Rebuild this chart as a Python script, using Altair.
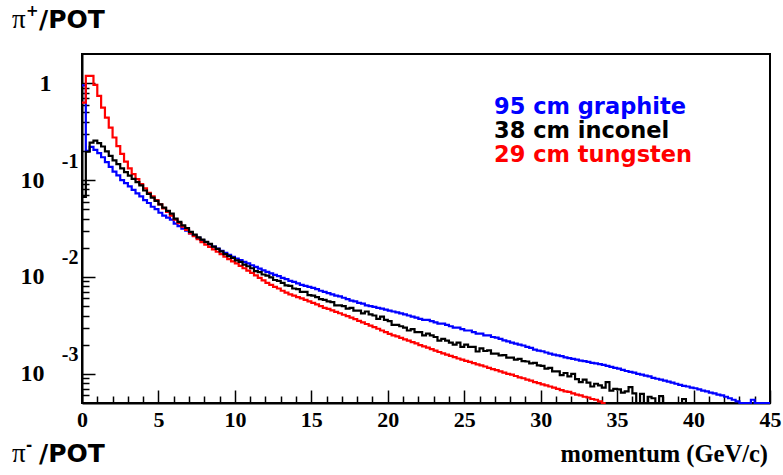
import altair as alt
import pandas as pd

# Momentum spectra of positive pions per proton on target, 0.25 GeV/c bins
BIN_WIDTH = 0.25

graphite_95cm = [
    0.95, 0.20, 0.22, 0.205,
    0.190, 0.172, 0.153, 0.137,
    0.122, 0.112, 0.100, 0.093,
    0.086, 0.079, 0.073, 0.068,
    0.062, 0.058, 0.053, 0.050,
    0.046, 0.043, 0.041, 0.039,
    0.0355, 0.0335, 0.0315, 0.0300,
    0.0282, 0.0267, 0.0253, 0.0240,
    0.0228, 0.0217, 0.0206, 0.0196,
    0.0186, 0.0177, 0.0169, 0.0161,
    0.0155, 0.0149, 0.0143, 0.0138,
    0.0132, 0.0127, 0.0122, 0.0117,
    0.0113, 0.0109, 0.0105, 0.0102,
    0.0098, 0.0095, 0.0091, 0.0089,
    0.0086, 0.0083, 0.0081, 0.0079,
    0.0077, 0.0075, 0.0072, 0.0070,
    0.0068, 0.0066, 0.0064, 0.0063,
    0.0061, 0.0059, 0.0057, 0.0056,
    0.0054, 0.0053, 0.0051, 0.0050,
    0.0049, 0.0048, 0.0047, 0.0046,
    0.0045, 0.0044, 0.0043, 0.0042,
    0.0041, 0.0040, 0.0039, 0.0038,
    0.0037, 0.0036, 0.0036, 0.0035,
    0.0034, 0.0033, 0.0033, 0.0032,
    0.0031, 0.0030, 0.0030, 0.0029,
    0.0028, 0.0028, 0.0027, 0.0026,
    0.0026, 0.0025, 0.0025, 0.0024,
    0.00236, 0.00229, 0.00221, 0.00216,
    0.00210, 0.00205, 0.00200, 0.00196,
    0.00190, 0.00185, 0.00178, 0.00174,
    0.00171, 0.00166, 0.00162, 0.00158,
    0.00155, 0.00152, 0.00148, 0.00145,
    0.00143, 0.00140, 0.00137, 0.00135,
    0.00133, 0.00130, 0.00128, 0.00126,
    0.00124, 0.00121, 0.00118, 0.00115,
    0.00113, 0.00110, 0.00107, 0.00105,
    0.00103, 0.00100, 0.00098, 0.00096,
    0.00094, 0.00091, 0.00089, 0.00087,
    0.00085, 0.00083, 0.00081, 0.00079,
    0.00077, 0.00075, 0.00074, 0.00072,
    0.00071, 0.00069, 0.00067, 0.00066,
    0.00064, 0.00063, 0.00061, 0.00060,
    0.00058, 0.00056, 0.00054, 0.00052,
    0.00048, 0.00048, 0.00048, 0.00054,
    0.00048, 0.00048, 0.00048, 0.00048,
]

inconel_38cm = [
    0.067, 0.196, 0.243, 0.255,
    0.240, 0.222, 0.198, 0.178,
    0.160, 0.146, 0.132, 0.121,
    0.111, 0.103, 0.095, 0.088,
    0.078, 0.072, 0.066, 0.061,
    0.056, 0.052, 0.048, 0.045,
    0.040, 0.037, 0.034, 0.032,
    0.0292, 0.0274, 0.0256, 0.0243,
    0.0230, 0.0219, 0.0206, 0.0195,
    0.0184, 0.0172, 0.0164, 0.0157,
    0.0148, 0.0143, 0.0134, 0.0129,
    0.0123, 0.0115, 0.0112, 0.0106,
    0.0103, 0.0099, 0.0093, 0.0091,
    0.0087, 0.0082, 0.0081, 0.0076,
    0.0075, 0.0070, 0.0070, 0.0065,
    0.0064, 0.0062, 0.0059, 0.0058,
    0.0056, 0.0055, 0.0051, 0.0051,
    0.0050, 0.0047, 0.0048, 0.0045,
    0.0045, 0.0042, 0.0044, 0.0041,
    0.0040, 0.0037, 0.0039, 0.0036,
    0.0035, 0.0032, 0.0032, 0.0031,
    0.0030, 0.0028, 0.0029, 0.0027,
    0.0027, 0.0025, 0.0026, 0.0025,
    0.0024, 0.0022, 0.0023, 0.0022,
    0.0021, 0.0020, 0.0021, 0.0019,
    0.0020, 0.0019, 0.0019, 0.0017,
    0.00183, 0.00172, 0.00175, 0.00162,
    0.00162, 0.00155, 0.00156, 0.00147,
    0.00147, 0.00140, 0.00143, 0.00135,
    0.00134, 0.00128, 0.00130, 0.00122,
    0.00121, 0.00113, 0.00115, 0.00106,
    0.00106, 0.00097, 0.00102, 0.00094,
    0.00100, 0.00088, 0.00082, 0.00087,
    0.00081, 0.00074, 0.00079, 0.00076,
    0.00072, 0.00082, 0.00067, 0.00070,
    0.00069, 0.00064, 0.00066, 0.00073,
    0.00063, 0.00040, 0.00062, 0.00040,
    0.00058, 0.00056, 0.00040, 0.00059,
    0.00040, 0.00040, 0.00040, 0.00040,
    0.00040, 0.00055, 0.00040, 0.00040,
]

tungsten_29cm = [
    0.63, 1.19, 1.19, 0.96,
    0.74, 0.56, 0.44, 0.347,
    0.275, 0.224, 0.186, 0.155,
    0.132, 0.115, 0.102, 0.091,
    0.082, 0.074, 0.068, 0.062,
    0.056, 0.051, 0.047, 0.043,
    0.039, 0.036, 0.033, 0.0305,
    0.0282, 0.0263, 0.0245, 0.0229,
    0.0216, 0.0204, 0.0193, 0.0182,
    0.0172, 0.0162, 0.0153, 0.0145,
    0.0138, 0.0130, 0.0123, 0.0116,
    0.0110, 0.0104, 0.0098, 0.0092,
    0.0087, 0.0083, 0.0079, 0.0076,
    0.0072, 0.0069, 0.0066, 0.0064,
    0.0062, 0.0060, 0.0058, 0.0056,
    0.0054, 0.0052, 0.0050, 0.0048,
    0.00468, 0.00452, 0.00437, 0.00422,
    0.00407, 0.00394, 0.00380, 0.00367,
    0.00352, 0.00340, 0.00327, 0.00315,
    0.00303, 0.00292, 0.00280, 0.00270,
    0.00259, 0.00250, 0.00243, 0.00235,
    0.00227, 0.00220, 0.00212, 0.00206,
    0.00198, 0.00192, 0.00186, 0.00180,
    0.00174, 0.00168, 0.00163, 0.00158,
    0.00153, 0.00149, 0.00144, 0.00140,
    0.00136, 0.00133, 0.00129, 0.00125,
    0.00122, 0.00119, 0.00115, 0.00112,
    0.00109, 0.00106, 0.00103, 0.00100,
    0.00098, 0.00095, 0.00092, 0.00090,
    0.00087, 0.00085, 0.00082, 0.00080,
    0.00078, 0.00076, 0.00074, 0.00072,
    0.00070, 0.00068, 0.00066, 0.00065,
    0.00063, 0.00061, 0.00060, 0.00058,
    0.00057, 0.00055, 0.00054, 0.00052,
    0.00040,
]

legend_labels = ["95 cm graphite", "38 cm inconel", "29 cm tungsten"]
legend_colors = ["#0000ff", "#000000", "#ff0000"]

x_major = [0, 5, 10, 15, 20, 25, 30, 35, 40, 45]
x_minor = [v for v in range(1, 45) if v % 5]
y_decades = [0.1, 0.01, 0.001]
y_minor = [m * d for d in (0.0001, 0.001, 0.01, 0.1) for m in range(2, 10)]
y_minor = [v for v in y_minor if v > 0.0005]

W, H = 688, 349
SERIF = "Liberation Serif"
SANS = "DejaVu Sans"


def histogram_steps(values):
    edges = [i * BIN_WIDTH for i in range(len(values) + 1)]
    return pd.DataFrame({"p": edges, "v": list(values) + [values[-1]]})


x_scale = alt.Scale(domain=[0, 45], nice=False, zero=False)
y_scale = alt.Scale(type="log", domain=[0.0005, 2], nice=False, clamp=True)


def step_layer(values, color, x_axis, y_axis, opacity=1.0):
    return alt.Chart(histogram_steps(values)).mark_line(
        interpolate="step-after", color=color, strokeWidth=2.2, opacity=opacity
    ).encode(
        x=alt.X("p:Q", scale=x_scale, axis=x_axis),
        y=alt.Y("v:Q", scale=y_scale, axis=y_axis),
    )


common = dict(grid=False, title=None, labelFlush=False, labelOverlap=False, labelBound=False)

x_labels = alt.Axis(
    values=x_major, format="d", labelFont=SERIF, labelFontWeight="bold",
    labelFontSize=22, labelColor="black", labelPadding=6, ticks=False, tickSize=0,
    domain=True, domainColor="black", domainWidth=2, **common)
x_major_ticks = alt.Axis(
    orient="top", offset=-H, values=x_major, labels=False, domain=False,
    ticks=True, tickSize=13, tickWidth=1.5, tickColor="black", **common)
x_minor_ticks = alt.Axis(
    orient="top", offset=-H, values=x_minor, labels=False, domain=False,
    ticks=True, tickSize=7, tickWidth=1.5, tickColor="black", **common)

y_tens = alt.Axis(
    orient="left", values=y_decades, labelExpr="'10'", labelFont=SERIF,
    labelFontWeight="bold", labelFontSize=24, labelColor="black", labelPadding=38,
    labelAlign="right", labelBaseline="middle", ticks=False, tickSize=0,
    domain=True, domainColor="black", domainWidth=2, **common)
y_exponents = alt.Axis(
    orient="left", values=y_decades,
    labelExpr="'-' + format(round(-log(datum.value) / LN10), 'd')",
    labelFont=SERIF, labelFontWeight="bold", labelFontSize=20, labelColor="black",
    labelPadding=4, labelOffset=-19, labelAlign="right", labelBaseline="middle",
    ticks=False, tickSize=0, domain=False, **common)
y_one = alt.Axis(
    orient="left", values=[1], labelExpr="'1'", labelFont=SERIF,
    labelFontWeight="bold", labelFontSize=24, labelColor="black", labelPadding=31,
    labelAlign="right", labelBaseline="middle", ticks=False, tickSize=0,
    domain=False, **common)
y_major_ticks = alt.Axis(
    orient="right", offset=-W, values=[0.001, 0.01, 0.1, 1], labels=False,
    domain=False, ticks=True, tickSize=13, tickWidth=1.5, tickColor="black", **common)
y_minor_ticks = alt.Axis(
    orient="right", offset=-W, values=y_minor, labels=False,
    domain=False, ticks=True, tickSize=7, tickWidth=1.5, tickColor="black", **common)

layers = [
    step_layer(graphite_95cm, legend_colors[0], x_labels, y_tens),
    step_layer(tungsten_29cm, legend_colors[2], x_major_ticks, y_exponents),
    step_layer(inconel_38cm, legend_colors[1], x_minor_ticks, y_one),
    step_layer(graphite_95cm, "white", None, y_major_ticks, opacity=0.0),
    step_layer(graphite_95cm, "white", None, y_minor_ticks, opacity=0.0),
]


def text_layer(text, x, y, font, size, color="black", weight="bold",
               align="left", baseline="alphabetic"):
    return alt.Chart(pd.DataFrame({"t": [text]})).mark_text(
        font=font, fontSize=size, fontWeight=weight, color=color,
        align=align, baseline=baseline,
    ).encode(text="t:N", x=alt.value(x), y=alt.value(y))


# legend block
for i, (label, color) in enumerate(zip(legend_labels, legend_colors)):
    layers.append(text_layer(label, 412, 59.5 + 24.2 * i, SANS, 22.5, color=color))

# y-axis captions above and below the frame
for sign, base in (("+", -26), ("-", 408)):
    layers.append(text_layer("π", -70, base, SERIF, 27, weight="normal"))
    layers.append(text_layer(sign, -56, base - 17, SANS, 15, baseline="middle"))
    layers.append(text_layer("/POT", -43, base, SANS, 25))

# x-axis caption
layers.append(text_layer("momentum (GeV/c)", 686, 408, SERIF, 24.5, align="right"))

chart = alt.layer(*layers).resolve_axis(
    x="independent", y="independent"
).properties(
    width=W, height=H,
    padding={"left": 82, "top": 54, "right": 13, "bottom": 72},
    autosize=alt.AutoSizeParams(type="none"),
    background="white",
).configure_view(stroke="black", strokeWidth=2)

chart.save("out.html", embed_options={"renderer": "svg", "actions": False})
